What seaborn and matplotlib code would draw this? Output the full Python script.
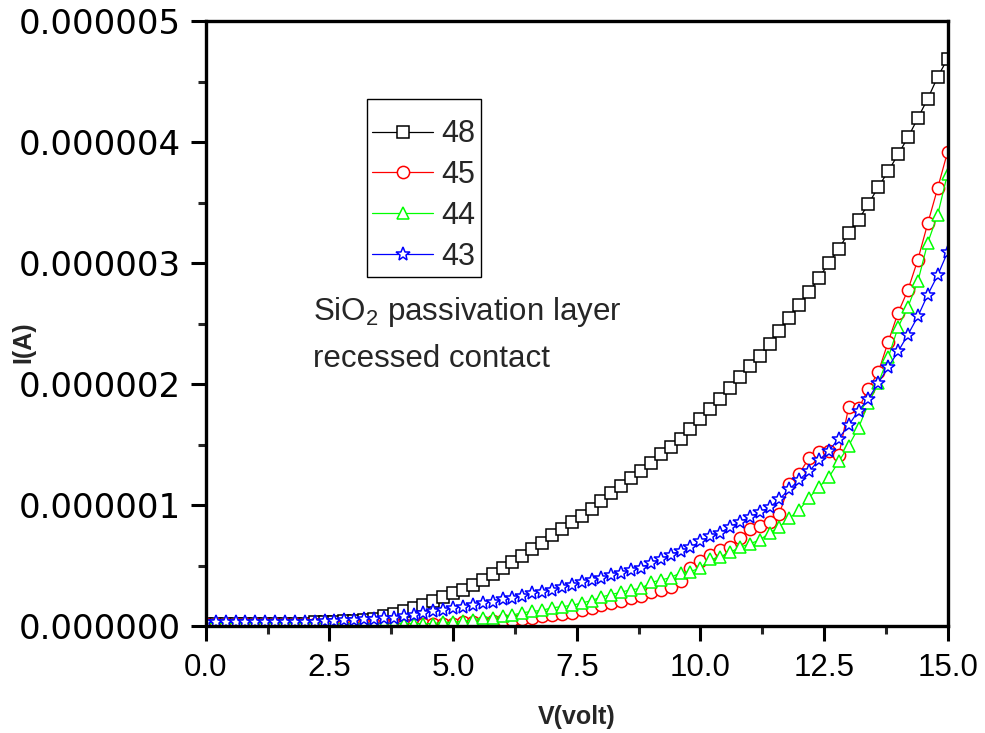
import matplotlib
matplotlib.use("Agg")
import matplotlib.pyplot as plt
import matplotlib.ticker as mticker
from matplotlib.lines import Line2D
import seaborn as sns
import pandas as pd

# ---- data (current in microamps) ----
voltage = [0.0, 0.2, 0.4, 0.6, 0.8, 1.0, 1.2, 1.4, 1.6, 1.8,
           2.0, 2.2, 2.4, 2.6, 2.8, 3.0, 3.2, 3.4, 3.6, 3.8,
           4.0, 4.2, 4.4, 4.6, 4.8, 5.0, 5.2, 5.4, 5.6, 5.8,
           6.0, 6.2, 6.4, 6.6, 6.8, 7.0, 7.2, 7.4, 7.6, 7.8,
           8.0, 8.2, 8.4, 8.6, 8.8, 9.0, 9.2, 9.4, 9.6, 9.8,
           10.0, 10.2, 10.4, 10.6, 10.8, 11.0, 11.2, 11.4, 11.6, 11.8,
           12.0, 12.2, 12.4, 12.6, 12.8, 13.0, 13.2, 13.4, 13.6, 13.8,
           14.0, 14.2, 14.4, 14.6, 14.8, 15.0]

i_48 = [0.02, 0.02, 0.02, 0.02, 0.02, 0.02, 0.02, 0.02, 0.02, 0.02,
        0.02, 0.03, 0.03, 0.03, 0.04, 0.04, 0.05, 0.06, 0.08, 0.10,
        0.12, 0.15, 0.17, 0.21, 0.24, 0.27, 0.30, 0.34, 0.38, 0.43,
        0.48, 0.53, 0.58, 0.64, 0.69, 0.75, 0.80, 0.86, 0.91, 0.97,
        1.03, 1.10, 1.16, 1.22, 1.28, 1.35, 1.42, 1.48, 1.55, 1.63,
        1.71, 1.79, 1.88, 1.97, 2.06, 2.15, 2.23, 2.33, 2.44, 2.55,
        2.65, 2.76, 2.88, 3.00, 3.12, 3.25, 3.36, 3.49, 3.63, 3.76,
        3.90, 4.04, 4.20, 4.36, 4.54, 4.69]

i_45 = [0.02, 0.02, 0.02, 0.02, 0.02, 0.02, 0.02, 0.02, 0.02, 0.02,
        0.02, 0.02, 0.02, 0.02, 0.02, 0.02, 0.02, 0.02, 0.02, 0.02,
        0.02, 0.02, 0.02, 0.02, 0.02, 0.02, 0.03, 0.03, 0.03, 0.04,
        0.05, 0.05, 0.06, 0.07, 0.08, 0.09, 0.10, 0.11, 0.13, 0.15,
        0.17, 0.19, 0.21, 0.23, 0.25, 0.28, 0.30, 0.32, 0.37, 0.48,
        0.54, 0.59, 0.63, 0.65, 0.73, 0.80, 0.83, 0.86, 0.93, 1.17,
        1.26, 1.39, 1.44, 1.45, 1.41, 1.81, 1.80, 1.96, 2.10, 2.35,
        2.59, 2.78, 3.03, 3.33, 3.62, 3.92]

i_44 = [0.02, 0.02, 0.02, 0.02, 0.02, 0.02, 0.02, 0.02, 0.02, 0.02,
        0.02, 0.02, 0.02, 0.02, 0.02, 0.02, 0.02, 0.02, 0.02, 0.02,
        0.02, 0.02, 0.02, 0.02, 0.03, 0.03, 0.04, 0.05, 0.07, 0.07,
        0.08, 0.09, 0.11, 0.12, 0.13, 0.15, 0.16, 0.17, 0.19, 0.21,
        0.24, 0.26, 0.28, 0.30, 0.31, 0.36, 0.38, 0.40, 0.44, 0.45,
        0.48, 0.55, 0.57, 0.61, 0.65, 0.68, 0.71, 0.77, 0.82, 0.89,
        0.96, 1.06, 1.15, 1.23, 1.36, 1.49, 1.64, 1.84, 2.01, 2.22,
        2.47, 2.64, 2.85, 3.17, 3.40, 3.74]

i_43 = [0.03, 0.03, 0.03, 0.03, 0.03, 0.03, 0.03, 0.03, 0.03, 0.03,
        0.03, 0.03, 0.04, 0.04, 0.05, 0.05, 0.06, 0.06, 0.07, 0.07,
        0.08, 0.09, 0.11, 0.12, 0.13, 0.15, 0.16, 0.17, 0.19, 0.20,
        0.22, 0.23, 0.25, 0.27, 0.28, 0.30, 0.32, 0.34, 0.36, 0.38,
        0.40, 0.42, 0.44, 0.46, 0.48, 0.52, 0.55, 0.59, 0.62, 0.65,
        0.70, 0.74, 0.77, 0.82, 0.86, 0.90, 0.94, 0.98, 1.05, 1.13,
        1.21, 1.28, 1.37, 1.45, 1.55, 1.66, 1.78, 1.88, 2.01, 2.14,
        2.27, 2.41, 2.56, 2.74, 2.90, 3.09]

series_labels = ["48", "45", "44", "43"]
series_values = [i_48, i_45, i_44, i_43]
series_colors = ["#000000", "#ff0000", "#00ff00", "#0000ff"]
series_markers = ["s", "o", "^", "*"]
x_ticks = [0.0, 2.5, 5.0, 7.5, 10.0, 12.5, 15.0]
y_ticks = [0.0, 1e-6, 2e-6, 3e-6, 4e-6, 5e-6]

# ---- style ----
sns.set_style("ticks")
plt.rcParams["font.family"] = ["Liberation Sans", "DejaVu Sans"]
plt.rcParams["mathtext.fontset"] = "custom"
plt.rcParams["mathtext.rm"] = "Liberation Sans"
plt.rcParams["mathtext.it"] = "Liberation Sans:italic"

fig = plt.figure(figsize=(9.85, 7.33), dpi=100)
ax = fig.add_axes([0.209, 0.146, 0.753, 0.825])

marker_sizes = {"s": 8.0, "o": 8.8, "^": 8.8, "*": 10.5}

handles = []
for lab, vals, col, mk in zip(series_labels, series_values, series_colors, series_markers):
    df = pd.DataFrame({"V": voltage, "I": [v * 1e-6 for v in vals]})
    ms = marker_sizes[mk]
    sns.lineplot(data=df, x="V", y="I", ax=ax, color=col, marker=mk,
                 markersize=ms, markerfacecolor="white", markeredgecolor=col,
                 markeredgewidth=1.1, linewidth=0.9, estimator=None,
                 sort=False, legend=False)
    handles.append(Line2D([], [], color=col, marker=mk, markersize=ms,
                          markerfacecolor="white", markeredgecolor=col,
                          markeredgewidth=1.1, linewidth=0.9))

ax.set_xlim(0, 15)
ax.set_ylim(0, 5e-6)
ax.set_xticks(x_ticks)
ax.set_yticks(y_ticks)
ax.xaxis.set_minor_locator(mticker.MultipleLocator(1.25))
ax.yaxis.set_minor_locator(mticker.MultipleLocator(0.5e-6))
ax.xaxis.set_major_formatter(mticker.FormatStrFormatter("%.1f"))
ax.yaxis.set_major_formatter(mticker.FormatStrFormatter("%.6f"))

for s in ax.spines.values():
    s.set_linewidth(2.4)
    s.set_color("black")
ax.tick_params(which="major", direction="out", length=10.5, width=2.2,
               colors="black")
ax.tick_params(which="minor", direction="out", length=5.5, width=2.2)
ax.tick_params(axis="x", which="major", labelsize=22.5, pad=9)
ax.tick_params(axis="y", which="major", labelsize=24.5, pad=7.5)
ax.tick_params(top=False, right=False, which="both")
for t in ax.get_yticklabels():
    t.set_fontfamily(["DejaVu Sans"])

ax.set_xlabel("V(volt)", fontsize=18, fontweight="bold")
ax.set_ylabel("I(A)", fontsize=18, fontweight="bold")
ax.xaxis.set_label_coords(0.5, -0.131)
ax.yaxis.set_label_coords(-0.230, 0.469)

ax.text(2.16, 2.6e-6, "SiO$_2$ passivation layer", fontsize=22.5,
        va="center", ha="left")
ax.text(2.16, 2.21e-6, "recessed contact", fontsize=22.5,
        va="center", ha="left")

leg = ax.legend(handles, series_labels, loc="upper left",
                bbox_to_anchor=(0.217, 0.871), borderaxespad=0,
                fontsize=22, frameon=True, title=" ", title_fontsize=3,
                fancybox=False, edgecolor="black", framealpha=1,
                handlelength=2.0, handletextpad=0.25, labelspacing=0.35,
                borderpad=0.18, numpoints=1)
leg.get_frame().set_linewidth(1.0)

fig.savefig("out.png", dpi=100, facecolor="white")
